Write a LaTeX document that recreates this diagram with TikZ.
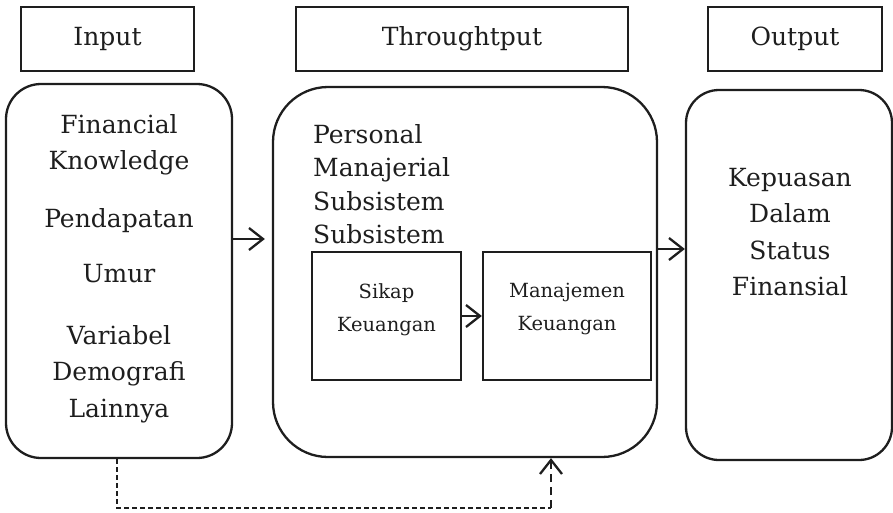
\documentclass[tikz,border=0pt]{standalone}
\usepackage{fontspec}
\setmainfont{DejaVu Serif}
\usetikzlibrary{arrows.meta,calc}
\definecolor{ink}{HTML}{1E1E1E}
\begin{document}
\begin{tikzpicture}[x=1pt,y=-1pt,
  every node/.style={text=ink},
  hdr/.style={draw=ink, line width=2.3pt, minimum height=64pt, inner sep=0pt,
    font=\fontsize{25}{30}\selectfont},
  rbox/.style={draw=ink, line width=2.3pt, inner sep=0pt},
  sbox/.style={draw=ink, line width=2.3pt, inner sep=0pt, minimum height=128pt},
  bigtxt/.style={inner sep=0pt, align=center, anchor=north,
    font=\fontsize{25}{36.5}\selectfont},
  smalltxt/.style={inner sep=0pt, align=center, anchor=north,
    font=\fontsize{19.5}{33}\selectfont},
  arr/.style={draw=ink, line width=2.3pt,
    -{Straight Barb[length=14pt,width=22pt,line width=2.3pt]}},
  thindash/.style={draw=ink, line width=1.4pt, dash pattern=on 5pt off 3pt},
  thickdash/.style={draw=ink, line width=2.6pt, dash pattern=on 8pt off 5pt}]
\useasboundingbox (0,0) rectangle (893,512);

% headers
\node[hdr, minimum width=173pt] (hin) at (107.5,39) {Input};
\node[hdr, minimum width=332pt] (hth) at (462,39) {Throughtput};
\node[hdr, minimum width=174pt] (hout) at (795,39) {Output};

% main boxes
\node[rbox, rounded corners=35pt, minimum width=226pt, minimum height=374pt] (inp) at (119,271) {};
\node[rbox, rounded corners=55pt, minimum width=384pt, minimum height=370pt] (mid) at (465,272) {};
\node[rbox, rounded corners=33pt, minimum width=206pt, minimum height=370pt] (out) at (789,275) {};

% input texts
\node[bigtxt] (t1) at (119,114) {Financial\\Knowledge};
\node[bigtxt] (t2) at (119,208) {Pendapatan};
\node[bigtxt] (t3) at (119,264) {Umur};
\node[bigtxt] (t4) at (119,325) {Variabel\\Demografi\\Lainnya};

% middle texts
\node[inner sep=0pt, align=left, anchor=north west,
  font=\fontsize{25}{33.5}\selectfont] (t5) at (313,124)
  {Personal\\Manajerial\\Subsistem\\Subsistem};

% inner boxes
\node[sbox, minimum width=149pt] (sik) at (386.5,316) {};
\node[sbox, minimum width=168pt] (man) at (567,316) {};
\node[smalltxt] (t6) at (386.5,283) {Sikap\\Keuangan};
\node[smalltxt] (t7) at (567,283) {Manajemen\\Keuangan};

% output text
\node[bigtxt] (t8) at (790,168) {Kepuasan\\Dalam\\Status\\Finansial};

% arrows
\coordinate (y1) at (0,239);
\coordinate (y2) at (0,249);
\draw[arr, shorten >=7pt] (inp.east |- y1) -- (mid.west |- y1);
\draw[arr] (mid.east |- y2) -- (out.west |- y2);
\draw[arr] (sik.east) -- (man.west);

% dashed feedback
\coordinate (d1) at (117,508);
\coordinate (d2) at (551,508);
\draw[thindash] (inp.south -| d1) -- (d1) -- (d2);
\draw[thickdash, arr] (d2) -- (mid.south -| d2);
\end{tikzpicture}
\end{document}
